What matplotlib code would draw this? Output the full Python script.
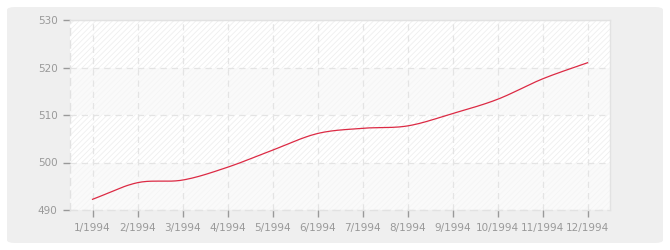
import matplotlib
matplotlib.use("Agg")
import matplotlib.pyplot as plt
from matplotlib.patches import FancyBboxPatch
import numpy as np

# data
months = ['1/1994', '2/1994', '3/1994', '4/1994', '5/1994', '6/1994',
          '7/1994', '8/1994', '9/1994', '10/1994', '11/1994', '12/1994']
values = [492.25, 495.75, 496.3, 499.0, 502.6, 506.1,
          507.2, 507.7, 510.3, 513.3, 517.6, 521.0]
y_ticks = [490, 500, 510, 520, 530]


def smooth(x, y, n=20):
    # cubic hermite through the points, tangents from neighbours
    x = np.asarray(x, float)
    y = np.asarray(y, float)
    m = np.gradient(y, x)
    xs, ys = [], []
    for i in range(len(x) - 1):
        h = x[i + 1] - x[i]
        t = np.linspace(0, 1, n, endpoint=False)
        h00 = 2 * t**3 - 3 * t**2 + 1
        h10 = t**3 - 2 * t**2 + t
        h01 = -2 * t**3 + 3 * t**2
        h11 = t**3 - t**2
        xs.append(x[i] + t * h)
        ys.append(h00 * y[i] + h10 * h * m[i] + h01 * y[i + 1] + h11 * h * m[i + 1])
    xs.append([x[-1]])
    ys.append([y[-1]])
    return np.concatenate(xs), np.concatenate(ys)


plt.rcParams['hatch.linewidth'] = 0.6

fig = plt.figure(figsize=(6.7, 2.5), dpi=100)
fig.patch.set_facecolor('white')
bg = FancyBboxPatch((7 / 670, 7 / 250), 656 / 670, 236 / 250,
                    boxstyle="round,pad=0,rounding_size=0.012",
                    transform=fig.transFigure, facecolor='#efefef',
                    edgecolor='none', zorder=-10)
fig.patches.append(bg)

ax = fig.add_axes([70 / 670, 40 / 250, 540 / 670, 190 / 250])
ax.set_zorder(1)
ax.set_facecolor('white')

x = np.arange(1, len(months) + 1)

# alternating bands
for k in range(len(y_ticks) - 1):
    lo, hi = y_ticks[k], y_ticks[k + 1]
    if k % 2 == 1:
        ax.axhspan(lo, hi, facecolor='white', hatch='//////', edgecolor='#efefef',
                   linewidth=0, zorder=0)
    else:
        ax.axhspan(lo, hi, facecolor='#fafafa', hatch='//////', edgecolor='#f5f5f5',
                   linewidth=0, zorder=0)

xs, ys = smooth(x, values)
ax.plot(xs, ys, color='#dc2a44', linewidth=0.9, zorder=3)

ax.set_xlim(0.5, 12.5)
ax.set_ylim(490, 530)
ax.set_xticks(x)
ax.set_xticklabels(months)
ax.set_yticks(y_ticks)

ax.grid(True, color='#e4e4e4', linestyle=(0, (5, 4)), linewidth=0.9, zorder=1)
ax.set_axisbelow(True)

for side in ['top', 'right']:
    ax.spines[side].set_color('#e2e2e2')
    ax.spines[side].set_linewidth(1)
for side in ['left', 'bottom']:
    ax.spines[side].set_color('#e2e2e2')
    ax.spines[side].set_linestyle((0, (5, 4)))
    ax.spines[side].set_linewidth(1)

ax.tick_params(axis='both', colors='#999999', labelsize=7.5, length=5, width=1,
               labelcolor='#999999')
ax.tick_params(axis='x', pad=4)
ax.tick_params(axis='y', pad=4)

plt.savefig("out.png", dpi=100)
